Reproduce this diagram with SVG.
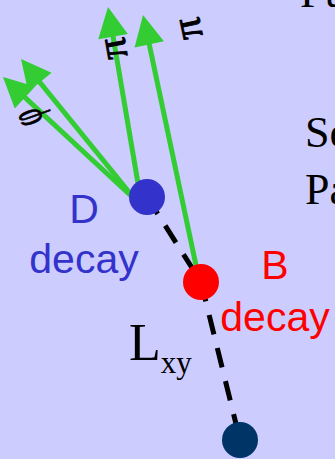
<svg xmlns="http://www.w3.org/2000/svg" width="335" height="459" viewBox="0 0 335 459">
<defs>
<style>
.trk{stroke:#33cc33;stroke-width:5;fill:none;marker-end:url(#ah)}
.dash{stroke:#000;stroke-width:5;fill:none;stroke-dasharray:20 14}
.serif{font-family:"Liberation Serif","Times New Roman",serif;fill:#000}
.greek{font-family:"Liberation Serif","Times New Roman",serif;fill:#000;stroke:#000;stroke-width:0.9;text-anchor:middle;dominant-baseline:central}
.sans{font-family:"Liberation Sans",Arial,sans-serif;font-size:41px;text-anchor:middle}
</style>
<marker id="ah" markerUnits="userSpaceOnUse" markerWidth="30" markerHeight="30" refX="20" refY="15" orient="auto" overflow="visible">
<path d="M0,0 L30,15 L0,30 Z" fill="#33cc33"/>
</marker>
</defs>
<rect width="335" height="459" fill="#ccccff"/>
<g id="connectors">
<line class="dash" x1="147" y1="197" x2="201" y2="282"/>
<line class="dash" x1="201" y1="282" x2="240" y2="440"/>
<line class="trk" x1="135.5" y1="200" x2="10.3" y2="83.8"/>
<line class="trk" x1="135.5" y1="200" x2="27.3" y2="66.8"/>
<line class="trk" x1="140" y1="195" x2="109.7" y2="16.9"/>
<line class="trk" x1="197" y1="270" x2="145.1" y2="24.8"/>
</g>
<g id="track-labels">
<text class="greek" font-size="42" transform="translate(112,49) rotate(-100)">π</text>
<text class="greek" font-size="42" transform="translate(187,29) rotate(-102)">π</text>
<text class="greek" font-size="46" transform="translate(26,119) rotate(-110) scale(0.6,1)">φ</text>
</g>
<g id="D">
<circle cx="147" cy="197" r="18" fill="#3333cc"/>
<text class="sans" fill="#3333cc"><tspan x="84" y="223">D</tspan><tspan x="84" y="273">decay</tspan></text>
</g>
<g id="B">
<circle cx="201" cy="282" r="18" fill="#ff0000"/>
<text class="sans" fill="#ff0000"><tspan x="275" y="279">B</tspan><tspan x="275" y="331">decay</tspan></text>
</g>
<g id="PV">
<circle cx="240" cy="440" r="18" fill="#003366"/>
</g>
<g id="Lxy">
<text class="serif" x="129" y="360" font-size="52">L<tspan font-size="31" y="373">xy</tspan></text>
</g>
<g id="side-text" class="serif" font-size="44">
<text x="300" y="7">Pu</text>
<text x="305" y="147">Se</text>
<text x="305" y="204">Pa</text>
</g>
</svg>
